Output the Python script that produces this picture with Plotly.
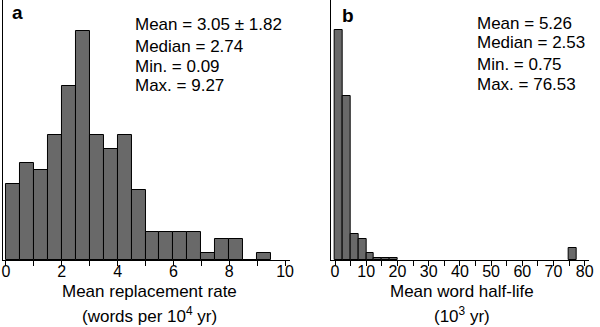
import plotly.graph_objects as go

# ---- data ----
# Panel a: mean replacement rate (words per 10^4 yr), bin width 0.5
a_bin_left = [0.0, 0.5, 1.0, 1.5, 2.0, 2.5, 3.0, 3.5, 4.0, 4.5,
              5.0, 5.5, 6.0, 6.5, 7.0, 7.5, 8.0, 8.5, 9.0]
a_counts = [11, 14, 13, 18, 25, 33, 18, 16, 18, 10,
            4, 4, 4, 4, 1, 3, 3, 0, 1]
a_bin_width = 0.5

# Panel b: mean word half-life (10^3 yr), bin width 2.5
b_bin_left = [0.0, 2.5, 5.0, 7.5, 10.0, 12.5, 15.0, 17.5, 75.0]
b_counts = [98, 70, 11, 9, 3, 1, 1, 1, 5]
b_bin_width = 2.5

a_tickvals = [0, 2, 4, 6, 8, 10]
a_ticktext = ["0", "2", "4", "6", "8", "10"]
a_minor_ticks = [1, 3, 5, 7, 9]
b_tickvals = [0, 10, 20, 30, 40, 50, 60, 70, 80]
b_ticktext = ["0", "10", "20", "30", "40", "50", "60", "70", "80"]
b_minor_ticks = [5, 15, 25, 35, 45, 55, 65, 75]

a_stats = ["Mean = 3.05 ± 1.82", "Median = 2.74", "Min. = 0.09", "Max. = 9.27"]
b_stats = ["Mean = 5.26", "Median = 2.53", "Min. = 0.75", "Max. = 76.53"]

a_title = ["Mean replacement rate", "(words per 10<sup>4</sup> yr)"]
b_title = ["Mean word half-life", "(10<sup>3</sup> yr)"]

FONT = "Liberation Sans, Arial, Helvetica, sans-serif"
BAR = "#696969"
W, H = 600, 327
PLOT_H = 260

fig = go.Figure()
fig.add_trace(go.Bar(
    x=[l + a_bin_width / 2 for l in a_bin_left], y=a_counts, width=a_bin_width,
    marker=dict(color=BAR, line=dict(color="black", width=1)),
    xaxis="x", yaxis="y", showlegend=False, hoverinfo="skip"))
fig.add_trace(go.Bar(
    x=[l + b_bin_width / 2 for l in b_bin_left], y=b_counts, width=b_bin_width,
    marker=dict(color=BAR, line=dict(color="black", width=1)),
    xaxis="x2", yaxis="y2", showlegend=False, hoverinfo="skip"))

common_x = dict(showline=True, linecolor="black", linewidth=1, ticks="outside",
                ticklen=5, tickcolor="black", tickwidth=1, showgrid=False,
                zeroline=False, ticklabelstandoff=-8,
                tickfont=dict(family=FONT, size=16, color="black"))
common_y = dict(showline=True, linecolor="black", linewidth=1, showticklabels=False,
                ticks="", showgrid=False, zeroline=False)
minor_style = dict(ticks="outside", ticklen=5, tickcolor="black", tickwidth=1,
                   showgrid=False)

fig.update_layout(
    width=W, height=H,
    margin=dict(l=0, r=0, t=0, b=H - PLOT_H, pad=0),
    paper_bgcolor="white", plot_bgcolor="white",
    bargap=0,
    xaxis=dict(domain=[2 / W, 292 / W], range=[-0.106, 10.18],
               tickmode="array", tickvals=a_tickvals, ticktext=a_ticktext,
               minor=dict(tickmode="array", tickvals=a_minor_ticks, **minor_style),
               anchor="y", **common_x),
    yaxis=dict(domain=[0, 1], range=[0, 37.4], anchor="x", **common_y),
    xaxis2=dict(domain=[333 / W, 594 / W], range=[-1.4, 81.4],
                tickmode="array", tickvals=b_tickvals, ticktext=b_ticktext,
                minor=dict(tickmode="array", tickvals=b_minor_ticks, **minor_style),
                anchor="y2", **common_x),
    yaxis2=dict(domain=[0, 1], range=[0, 110.8], anchor="x2", **common_y),
)

ann = []
def py(p):
    return 1 - p / PLOT_H

# panel letters
ann.append(dict(text="<b>a</b>", x=17 / W, y=py(12), xref="paper", yref="paper",
                showarrow=False, xanchor="center", yanchor="middle",
                font=dict(family=FONT, size=19, color="black")))
ann.append(dict(text="<b>b</b>", x=351 / W, y=py(15), xref="paper", yref="paper",
                showarrow=False, xanchor="center", yanchor="middle",
                font=dict(family=FONT, size=19, color="black")))

a_line_y = [25, 46, 66, 86]
b_line_y = [23, 43, 64, 85]
for t, yy in zip(a_stats, a_line_y):
    ann.append(dict(text=t, x=133 / W, y=py(yy), xref="paper", yref="paper",
                    showarrow=False, xanchor="left", yanchor="middle",
                    font=dict(family=FONT, size=17, color="black")))
for t, yy in zip(b_stats, b_line_y):
    ann.append(dict(text=t, x=479 / W, y=py(yy), xref="paper", yref="paper",
                    showarrow=False, xanchor="left", yanchor="middle",
                    font=dict(family=FONT, size=17, color="black")))

title_y = [291, 315]
for t, yy in zip(a_title, title_y):
    ann.append(dict(text=t, x=150 / W, y=py(yy), xref="paper", yref="paper",
                    showarrow=False, xanchor="center", yanchor="middle",
                    font=dict(family=FONT, size=17, color="black")))
for t, yy in zip(b_title, title_y):
    ann.append(dict(text=t, x=466 / W, y=py(yy), xref="paper", yref="paper",
                    showarrow=False, xanchor="center", yanchor="middle",
                    font=dict(family=FONT, size=17, color="black")))

fig.update_layout(annotations=ann)
fig.write_html("out.html", config={"displayModeBar": False},
               post_script="document.body.style.margin='0';document.body.style.overflow='hidden';")
